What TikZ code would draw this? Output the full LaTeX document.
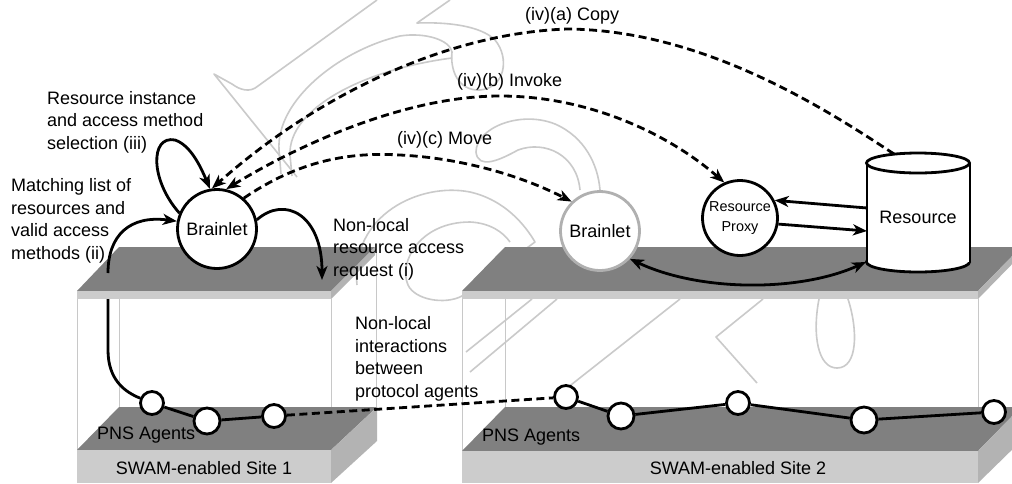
\documentclass[tikz,border=0pt]{standalone}
\usepackage{fontspec}
\setmainfont{Liberation Sans}
\usetikzlibrary{arrows.meta}
\definecolor{topc}{HTML}{808080}
\definecolor{frontc}{HTML}{CCCCCC}
\definecolor{sidec}{HTML}{B3B3B3}
\definecolor{edgec}{HTML}{C8C8C8}
\definecolor{wm}{HTML}{CACACA}
\definecolor{ringc}{HTML}{B0B0B0}
\begin{document}
\begin{tikzpicture}[x=1pt,y=-1pt,
  lbl/.style={font=\fontsize{18}{22.5}\selectfont, inner sep=0pt, align=left},
  agent/.style={circle, draw=black, fill=white, line width=2.8pt, inner sep=0pt},
  bnode/.style={circle, draw=black, fill=white, line width=2.8pt, inner sep=0pt, minimum size=79pt, font=\fontsize{18}{22}\selectfont},
  conn/.style={line width=2.8pt},
  tip/.style={-{Stealth[length=14pt,width=11pt,inset=4pt]}},
  tipboth/.style={{Stealth[length=14pt,width=11pt,inset=4pt]}-{Stealth[length=14pt,width=11pt,inset=4pt]}},
  dsh/.style={line width=2.8pt, dash pattern=on 8pt off 4.5pt},
  wmark/.style={draw=wm, line width=1.6pt, line join=round},
  edge/.style={draw=edgec, line width=1pt}
]
\useasboundingbox (0,0) rectangle (1012,483);
\fill[white] (0,0) rectangle (1012,483);

% watermark
\draw[wmark] (377,0) -- (258,86) .. controls (250,93) and (240,90) .. (232,84) -- (214,74) -- (297,177);
\draw[wmark] (450,0) -- (417,23) .. controls (445,22) and (480,25) .. (495,40) .. controls (510,58) and (505,88) .. (480,90) .. controls (458,91) and (450,70) .. (452,52) .. controls (450,40) and (425,32) .. (400,36) .. controls (340,50) and (276,100) .. (279,150) -- (281,174);
\draw[wmark] (452,58) .. controls (360,70) and (288,110) .. (290,155) -- (292,176);
\draw[wmark] (580,190) .. controls (577,155) and (545,140) .. (518,150) .. controls (500,160) and (478,170) .. (476,152) .. controls (476,128) and (520,110) .. (555,124) .. controls (585,137) and (598,165) .. (600,190);
\draw[wmark] (357,285) .. controls (350,215) and (420,182) .. (470,192) .. controls (505,200) and (525,225) .. (535,242) -- (462,296) .. controls (445,305) and (415,300) .. (408,285) .. controls (398,262) and (420,222) .. (470,222) .. controls (490,223) and (503,232) .. (510,242);
\draw[wmark] (680,299) -- (562,392);
\draw[wmark] (763,299) -- (716,337) -- (757,383);
\draw[wmark] (532,299) -- (466,352);
\draw[wmark] (557,299) -- (470,372);
\draw[wmark] (819,299) .. controls (812,335) and (818,368) .. (837,368) .. controls (858,368) and (858,330) .. (848,299);

% site 1 box
\draw[edge] (77,299) -- (77,450) (331,299) -- (331,450) (119,252) -- (119,420) (376,252) -- (376,420);
\fill[topc] (77,291) -- (331,291) -- (375,247) -- (119,247) -- cycle;
\fill[frontc] (77,291) rectangle (331,299);
\fill[sidec] (331,291) -- (375,247) -- (375,255) -- (331,299) -- cycle;
\fill[topc] (77,450) -- (331,450) -- (377,407) -- (119,407) -- cycle;
\fill[frontc] (77,450) rectangle (331,483);
\fill[sidec] (331,450) -- (377,407) -- (377,441) -- (331,483) -- cycle;

% site 2 box
\draw[edge] (462,299) -- (462,451) (978,299) -- (978,451) (505,252) -- (505,420);
\fill[topc] (462,291) -- (978,291) -- (1021,247) -- (505,247) -- cycle;
\fill[frontc] (462,291) rectangle (978,299);
\fill[sidec] (978,291) -- (1021,247) -- (1021,255) -- (978,299) -- cycle;
\fill[topc] (462,451) -- (978,451) -- (1021,407) -- (505,407) -- cycle;
\fill[frontc] (462,451) rectangle (978,483);
\fill[sidec] (978,451) -- (1021,407) -- (1021,441) -- (978,483) -- cycle;

% resource cylinder
\filldraw[fill=white, draw=black, line width=2.8pt] (918,262) ellipse [x radius=51.5, y radius=10];
\fill[white] (867,163) rectangle (970,262);
\draw[line width=2.8pt] (867,163) -- (867,262) (970,163) -- (970,262);
\filldraw[fill=white, draw=black, line width=2.8pt] (918,163) ellipse [x radius=51.5, y radius=10];
\node[lbl] (res) at (918,217) {Resource};
\coordinate (rtop) at (894,154);
\coordinate (rl1) at (867,208);
\coordinate (rl2) at (867,231);
\coordinate (rbot) at (866,262);

% nodes
\node[bnode] (bl1) at (217,229) {Brainlet};
\node[bnode, draw=ringc] (bl2) at (600,231) {Brainlet};
\node[bnode, minimum size=75pt, font=\fontsize{14.4}{20}\selectfont, align=center] (px) at (740,218) {Resource\\Proxy};

\node[agent, minimum size=23pt] (p1) at (152,403) {};
\node[agent, minimum size=26pt] (p2) at (207,421) {};
\node[agent, minimum size=23pt] (p3) at (274,416) {};
\node[agent, minimum size=23pt] (q1) at (566,397) {};
\node[agent, minimum size=26pt] (q2) at (621,416) {};
\node[agent, minimum size=23pt] (q3) at (738,403) {};
\node[agent, minimum size=26pt] (q4) at (864,420) {};
\node[agent, minimum size=23pt] (q5) at (994,412) {};

\coordinate (m1) at (108,273);
\coordinate (m2) at (108,299);
\coordinate (reqend) at (322,280);

% connectors
\draw[conn] (p1) -- (p2) -- (p3);
\draw[dsh] (p3) -- (q1);
\draw[conn] (q1) -- (q2) -- (q3) -- (q4) -- (q5);

\draw[conn, tip] (bl1.157) .. controls (150,180) and (150,135) .. (175,140) .. controls (190,145) and (200,165) .. (bl1.100);
\draw[conn, tip] (m1) .. controls (108,235) and (130,215) .. (bl1.169);
\draw[conn] (m2) -- (108,350) .. controls (108,380) and (125,392) .. (p1);
\draw[conn, tip] (bl1.13) .. controls (285,195) and (322,215) .. (reqend);

\draw[dsh, tip] (rtop) .. controls (820,105) and (700,30) .. (567,29) .. controls (430,34) and (300,110) .. (bl1.97);
\draw[dsh, tipboth] (bl1.77) .. controls (290,150) and (400,96) .. (500,96) .. controls (590,96) and (670,135) .. (px.114);
\draw[dsh, tip] (bl1.49) .. controls (300,160) and (350,152) .. (400,155) .. controls (460,158) and (520,175) .. (bl2.134);

\draw[conn, tip] (rl1) -- (px.27);
\draw[conn, tip] (px.-9) -- (rl2);
\draw[conn, tipboth] (bl2.-43) .. controls (700,292) and (800,292) .. (rbot);

% labels
\node[lbl, anchor=west] (t1) at (47,122) {Resource instance\\and access method\\selection (iii)};
\node[lbl, anchor=west] (t2) at (11,221) {Matching list of\\resources and\\valid access\\methods (ii)};
\node[lbl, anchor=west] (t3) at (333,249) {Non-local\\resource access\\request (i)};
\node[lbl, anchor=west] (t4) at (355,359) {Non-local\\interactions\\between\\protocol agents};
\node[lbl, anchor=west] (t5) at (525,16) {(iv)(a) Copy};
\node[lbl, anchor=west] (t6) at (457,82) {(iv)(b) Invoke};
\node[lbl, anchor=west] (t7) at (397,140) {(iv)(c) Move};
\node[lbl, anchor=west] (t8) at (97,435) {PNS Agents};
\node[lbl, anchor=west] (t9) at (482,437) {PNS Agents};
\node[lbl] (t10) at (204,468) {SWAM-enabled Site 1};
\node[lbl] (t11) at (738,468) {SWAM-enabled Site 2};
\end{tikzpicture}
\end{document}
